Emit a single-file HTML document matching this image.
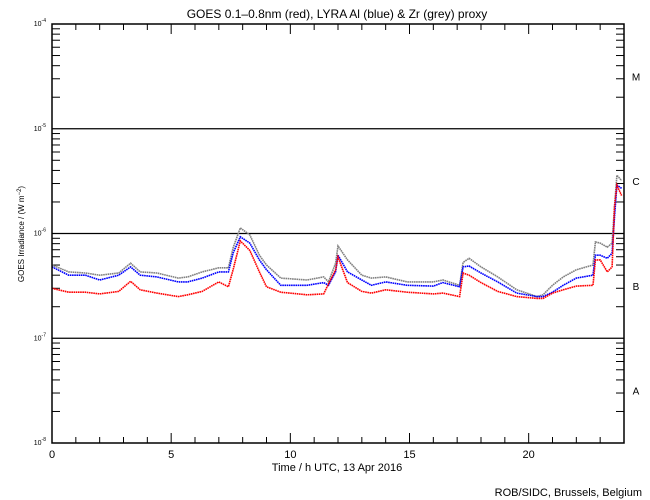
<!DOCTYPE html>
<html><head><meta charset="utf-8"><style>
body{margin:0;background:#fff}
svg{display:block;font-family:"Liberation Sans",sans-serif}
</style></head><body>
<svg id="chart" width="650" height="500" viewBox="0 0 650 500">
<rect width="650" height="500" fill="#fff"/>
<text x="337" y="18" text-anchor="middle" font-size="12">GOES 0.1–0.8nm (red), LYRA Al (blue) &amp; Zr (grey) proxy</text>
<g id="axes"></g>
<g id="series"></g>
<rect x="52" y="24" width="572" height="419" fill="none" stroke="#000" stroke-width="1.5"/>
<text x="337" y="471" text-anchor="middle" font-size="11">Time / h UTC, 13 Apr 2016</text>
<text transform="translate(24,234) rotate(-90)" text-anchor="middle" font-size="8">GOES Irradiance / (W m<tspan dy="-3" font-size="6">−2</tspan><tspan dy="3">)</tspan></text>
<text x="642" y="496" text-anchor="end" font-size="11">ROB/SIDC, Brussels, Belgium</text>
</svg>
<script>
const times=[0,0.7,1.4,2.0,2.8,3.3,3.7,4.4,5.3,5.7,6.3,7.0,7.4,7.6,7.9,8.3,8.7,9.0,9.6,10.7,11.4,11.6,11.9,12.0,12.4,13.0,13.4,14.0,14.9,16.0,16.4,17.1,17.25,17.5,18.0,18.7,19.5,20.35,20.6,21.0,21.45,22.0,22.7,22.8,23.0,23.3,23.5,23.6,23.7,23.9];
const redVals=[3.0,2.75,2.75,2.65,2.8,3.5,2.9,2.7,2.5,2.6,2.8,3.45,3.1,4.5,8.5,6.9,4.3,3.1,2.75,2.6,2.65,3.3,4.5,5.97,3.4,2.8,2.7,2.9,2.75,2.65,2.7,2.5,4.2,4.0,3.4,2.8,2.5,2.4,2.4,2.7,2.9,3.15,3.2,5.6,5.6,4.3,4.8,18,29,23];
const blueVals=[4.8,4.0,4.0,3.6,4.0,4.8,4.0,3.85,3.45,3.45,3.75,4.3,4.3,6.5,9.3,8.1,5.6,4.5,3.2,3.2,3.4,3.2,4.3,6.2,4.3,3.6,3.2,3.45,3.2,3.15,3.4,3.1,4.8,4.9,4.2,3.45,2.7,2.5,2.5,2.75,3.2,3.75,4.0,6.2,6.2,5.8,6.5,14.4,29,27];
const greyVals=[5.0,4.3,4.2,4.0,4.2,5.2,4.3,4.2,3.75,3.85,4.3,4.7,4.7,7.3,11.3,9.7,6.2,5.0,3.75,3.6,3.85,3.45,5.2,7.6,5.6,4.0,3.75,3.85,3.45,3.45,3.6,3.2,5.3,5.8,4.8,3.85,2.9,2.5,2.6,3.2,3.85,4.5,5.0,8.3,8.1,7.4,8.1,18,36,32];
const valScale=1e-7;
const xTickLabels=["0","5","10","15","20"];
const decadeExps=[-4,-5,-6,-7,-8];
const classLabels=["M","C","B","A"];

const NS="http://www.w3.org/2000/svg";
const X0=52,X1=624,Y0=24,Y1=443;
const xs=h=>X0+(X1-X0)*h/24;
const ys=v=>Y0+(-4-Math.log10(v))*(Y1-Y0)/4;
function mk(tag,attrs,parent){const e=document.createElementNS(NS,tag);for(const k in attrs)e.setAttribute(k,attrs[k]);parent.appendChild(e);return e;}
const ax=document.getElementById('axes');
// x ticks
for(let h=0;h<=24;h++){
  const L=h%5===0?10:6;const x=xs(h);
  const t1=mk('line',{x1:x,x2:x,y1:Y1,y2:Y1-L,stroke:'#000'},ax);
  
  
  const t2=mk('line',{x1:x,x2:x,y1:Y0,y2:Y0+L,stroke:'#000'},ax);
  
  
}
xTickLabels.forEach(s=>{
  const t=mk('text',{x:xs(+s),y:458,'text-anchor':'middle','font-size':'11'},ax);t.textContent=s;
  
  
});
// y decades
decadeExps.forEach(e=>{
  const y=ys(Math.pow(10,e));
  if(e>-8&&e<-4){const g=mk('line',{x1:X0,x2:X1,y1:y,y2:y,stroke:'#000','stroke-width':1.3},ax);
  
  }
  const t=mk('text',{x:46,y:y+2,'text-anchor':'end','font-size':'7'},ax);
  
  
  t.innerHTML='10<tspan dy="-4" font-size="5">'+e+'</tspan>';
  if(e>-8){for(let m=2;m<=9;m++){const yy=ys(m*Math.pow(10,e-1));
    const a=mk('line',{x1:X0,x2:X0+8,y1:yy,y2:yy,stroke:'#000'},ax);
    
    
    const b=mk('line',{x1:X1,x2:X1-8,y1:yy,y2:yy,stroke:'#000'},ax);
    
    }}
});
classLabels.forEach((c,i)=>{
  const y=ys(Math.pow(10,-4.5-i));
  const t=mk('text',{x:636,y:y+4,'text-anchor':'middle','font-size':'10'},ax);t.textContent=c;
  
  
});
const sg=document.getElementById('series');
[[greyVals,'#808080','grey-zr-series'],[blueVals,'#0000ff','blue-al-series'],[redVals,'#ff0000','red-goes-series']].forEach(([vals,col,name])=>{
  const pts=times.map((t,i)=>xs(t).toFixed(1)+','+ys(vals[i]*valScale).toFixed(1)).join(' ');
  const p=mk('polyline',{points:pts,fill:'none',stroke:col,'stroke-width':1.6,'stroke-dasharray':'1.6 0.6'},sg);
  
  
});
</script>
</body></html>
